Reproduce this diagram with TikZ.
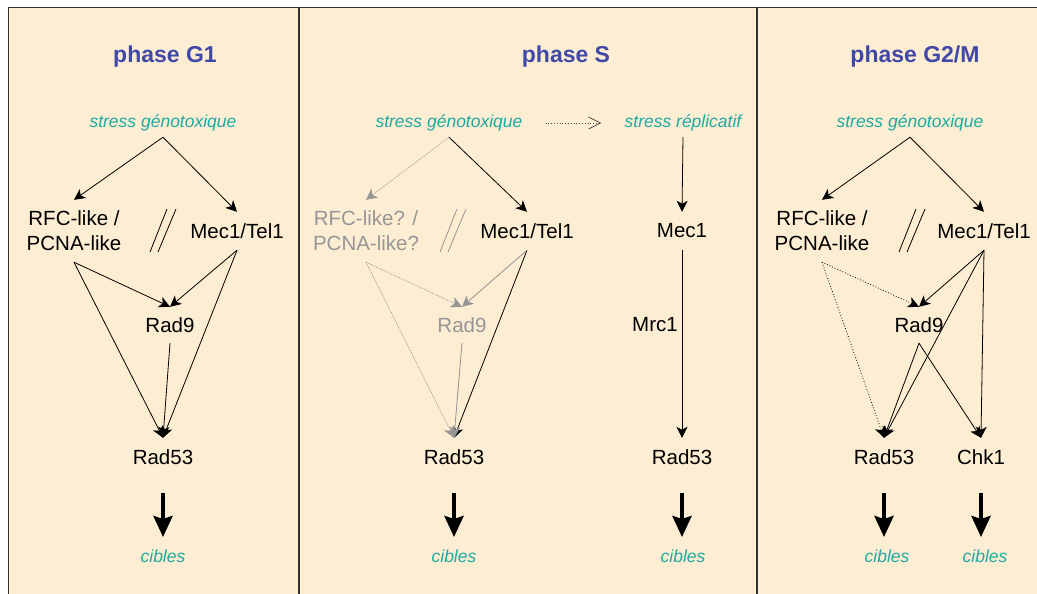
\documentclass[tikz,border=0pt]{standalone}
\usepackage{fontspec}
\setmainfont{Liberation Sans}
\usetikzlibrary{arrows.meta,calc}
\definecolor{peach}{RGB}{253,237,210}
\definecolor{titleblue}{RGB}{64,72,168}
\definecolor{stresscol}{RGB}{30,170,162}
\definecolor{muted}{RGB}{150,150,150}
\definecolor{framecol}{RGB}{50,50,50}
\tikzset{
  parbars/.pic={
    \draw[line width=0.8pt] (4,-22) -- (-13,21);
    \draw[line width=0.8pt] (13,-22) -- (-5,21);
  }
}
\begin{document}
\begin{tikzpicture}[x=1pt,y=-1pt,
  lbl/.style={inner sep=0pt, font=\fontsize{20.5}{25}\selectfont, align=center},
  cue/.style={inner sep=0pt, font=\fontsize{17.5}{21}\selectfont\itshape, text=stresscol},
  ttl/.style={inner sep=0pt, font=\fontsize{23}{28}\selectfont\bfseries, text=titleblue},
  link/.style={-{Stealth[length=11pt,width=11pt,inset=3pt]}, line width=0.8pt},
  faint/.style={link, draw=muted, fill=muted},
  maybe/.style={link, dotted},
  bigarrow/.style={-{Stealth[length=21pt,width=19pt,inset=3pt]}, line width=4pt,
                   shorten <=36pt, shorten >=19pt}
]
\useasboundingbox (0,0) rectangle (1037,594);
\clip (0,0) rectangle (1037,594);
\fill[white] (0,0) rectangle (1037,594);
% panels
\filldraw[fill=peach, draw=framecol, line width=1.4pt] (8.7,7.7) rectangle (1050,610);
\draw[framecol, line width=1.4pt] (299,7.7) -- (299,610);
\draw[framecol, line width=1.4pt] (757,7.7) -- (757,610);

% ---------- phase G1 ----------
\node[ttl] (t1) at (165,57) {phase G1};
\node[cue, minimum height=28pt] (sg1) at (163,123) {stress génotoxique};
\node[lbl, minimum height=62pt] (rfc1) at (74,231) {RFC-like /\\PCNA-like};
\node[lbl, minimum height=38pt] (mec1) at (237,231) {Mec1/Tel1};
\node[lbl, minimum height=36pt] (rad9a) at (170,325) {Rad9};
\node[lbl, minimum height=38pt] (rad53a) at (163,457) {Rad53};
\node[cue, minimum height=30pt] (cib1) at (163,556) {cibles};
\pic at (163,231) {parbars};
\draw[link] (sg1.south) -- (rfc1.north);
\draw[link] (sg1.south) -- (mec1.north);
\draw[link] (rfc1.south) -- (rad9a.north);
\draw[link] (mec1.south) -- (rad9a.north);
\draw[link] (rfc1.south) -- (rad53a.north);
\draw[link] (mec1.south) -- (rad53a.north);
\draw[link] (rad9a.south) -- (rad53a.north);
\draw[bigarrow] (rad53a.center) -- (rad53a.center |- cib1.center);

% ---------- phase S ----------
\node[ttl] (t2) at (566,57) {phase S};
\node[cue, minimum height=28pt] (sg2) at (449,123) {stress génotoxique};
\node[lbl, minimum height=62pt, text=muted] (rfc2) at (366,231) {RFC-like? /\\PCNA-like?};
\node[lbl, minimum height=38pt] (mec2) at (527,231) {Mec1/Tel1};
\node[lbl, minimum height=36pt, text=muted] (rad9b) at (462,325) {Rad9};
\node[lbl, minimum height=38pt] (rad53b) at (454,457) {Rad53};
\node[cue, minimum height=30pt] (cib2) at (454,556) {cibles};
\pic[draw=muted] at (453,231) {parbars};
\draw[link] (sg2.south) -- (mec2.north);
\draw[link] (mec2.south) -- (rad53b.north);
\draw[faint, dotted] (sg2.south) -- (rfc2.north);
\draw[faint, dotted] (rfc2.south) -- (rad9b.north);
\draw[faint, dotted] (rfc2.south) -- (rad53b.north);
\draw[faint] (mec2.south) -- (rad9b.north);
\draw[faint] (rad9b.south) -- (rad53b.north);
\draw[bigarrow] (rad53b.center) -- (rad53b.center |- cib2.center);

% replicative stress branch
\node[cue, minimum height=28pt] (sr) at (683,123) {stress réplicatif};
\node[lbl, minimum height=38pt] (mec3) at (682,231) {Mec1};
\node[lbl] (mrc1) at (655,325) {Mrc1};
\node[lbl, minimum height=38pt] (rad53c) at (682,457) {Rad53};
\node[cue, minimum height=30pt] (cib3) at (683,556) {cibles};
\draw[dotted, line width=0.8pt, draw=black!70,
      -{Straight Barb[length=12pt,width=12pt]},
      shorten <=23pt, shorten >=23pt] (sg2.east) -- (sr.west);
\draw[link] (sr.south) -- (mec3.north);
\draw[link] (mec3.south) -- (rad53c.north);
\draw[bigarrow] (rad53c.center) -- (rad53c.center |- cib3.center);

% ---------- phase G2/M ----------
\node[ttl] (t3) at (915,57) {phase G2/M};
\node[cue, minimum height=28pt] (sg3) at (910,123) {stress génotoxique};
\node[lbl, minimum height=62pt] (rfc3) at (822,231) {RFC-like /\\PCNA-like};
\node[lbl, minimum height=38pt] (mec4) at (984,231) {Mec1/Tel1};
\node[lbl, minimum height=36pt] (rad9c) at (919,325) {Rad9};
\node[lbl, minimum height=38pt] (rad53d) at (884,457) {Rad53};
\node[lbl, minimum height=38pt] (chk1) at (981,457) {Chk1};
\node[cue, minimum height=30pt] (cib4) at (887,556) {cibles};
\node[cue, minimum height=30pt] (cib5) at (985,556) {cibles};
\pic at (912,231) {parbars};
\draw[link] (sg3.south) -- (rfc3.north);
\draw[link] (sg3.south) -- (mec4.north);
\draw[maybe] (rfc3.south) -- (rad9c.north);
\draw[maybe] (rfc3.south) -- (rad53d.north);
\draw[link] (mec4.south) -- (rad9c.north);
\draw[link] (mec4.south) -- (rad53d.north);
\draw[link] (mec4.south) -- (chk1.north);
\draw[link] (rad9c.south) -- (rad53d.north);
\draw[link] (rad9c.south) -- (chk1.north);
\draw[bigarrow] (rad53d.center) -- (rad53d.center |- cib4.center);
\draw[bigarrow] (chk1.center) -- (chk1.center |- cib5.center);
\end{tikzpicture}
\end{document}
